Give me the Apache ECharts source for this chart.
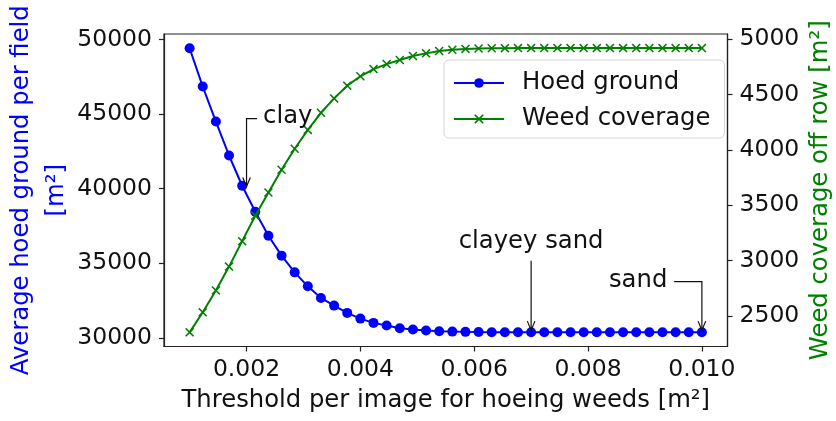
<!DOCTYPE html>
<html>
<head>
<meta charset="utf-8">
<script src="https://cdn.jsdelivr.net/npm/echarts@6/dist/echarts.min.js"></script>
<style>
  html, body { margin: 0; padding: 0; background: #fff; }
  #chart { width: 836px; height: 421px; }
</style>
</head>
<body>
<div id="chart"></div>
<script>
// ---- data ----
const thresholds = [
  0.001, 0.0012308, 0.0014615, 0.0016923, 0.0019231, 0.0021538, 0.0023846, 0.0026154,
  0.0028462, 0.0030769, 0.0033077, 0.0035385, 0.0037692, 0.004, 0.0042308, 0.0044615,
  0.0046923, 0.0049231, 0.0051538, 0.0053846, 0.0056154, 0.0058462, 0.0060769, 0.0063077,
  0.0065385, 0.0067692, 0.007, 0.0072308, 0.0074615, 0.0076923, 0.0079231, 0.0081538,
  0.0083846, 0.0086154, 0.0088462, 0.0090769, 0.0093077, 0.0095385, 0.0097692, 0.01
];
const hoedGround = [
  49411, 46841, 44498, 42223, 40195, 38455, 36848, 35510, 34392, 33455,
  32678, 32163, 31674, 31293, 31005, 30825, 30644, 30557, 30490, 30443,
  30420, 30403, 30390, 30383, 30380, 30378, 30377, 30376, 30376, 30375,
  30375, 30375, 30375, 30375, 30375, 30375, 30375, 30375, 30375, 30375
];
const weedCoverage = [
  2351, 2532, 2730, 2945, 3175, 3405, 3615, 3820, 4010, 4180,
  4335, 4465, 4580, 4665, 4730, 4775, 4812, 4848, 4872, 4893,
  4905, 4912, 4916, 4918, 4919, 4920, 4920, 4920, 4920, 4920,
  4920, 4920, 4920, 4920, 4920, 4920, 4920, 4920, 4920, 4920
];
const xTicks = [0.002, 0.004, 0.006, 0.008, 0.010];
const leftTicks = [30000, 35000, 40000, 45000, 50000];
const rightTicks = [2500, 3000, 3500, 4000, 4500, 5000];
const seriesNames = ['Hoed ground', 'Weed coverage'];
const xAxisTitle = 'Threshold per image for hoeing weeds [m²]';
const leftAxisTitle = 'Average hoed ground per field\n[m²]';
const rightAxisTitle = 'Weed coverage off row [m²]';
// annotations: label, arrow tip (x, left-axis y), text anchor (x, left-axis y)
const annoLabels = ['clay', 'clayey sand', 'sand'];
const annoTips = [[0.002, 40150], [0.007, 30520], [0.010, 30520]];
const annoTexts = [[0.00229, 44820], [0.007, 36450], [0.00888, 33840]];

const FONT = 'DejaVu Sans';
const FS = 24.3;     // labels, legend, annotations
const TFS = 23.5;    // tick labels
const BLUE = '#0000ff';
const GREEN = '#008000';
const XSHAPE = 'path://M0,1.2L1.2,0L5,3.8L8.8,0L10,1.2L6.2,5L10,8.8L8.8,10L5,6.2L1.2,10L0,8.8L3.8,5Z';

const chart = echarts.init(document.getElementById('chart'), null, { renderer: 'canvas' });

const option = {
  animation: false,
  backgroundColor: '#fff',
  textStyle: { fontFamily: FONT },
  grid: {
    left: 164, top: 34, right: 108.5, bottom: 74.5,
    containLabel: false, outerBoundsMode: 'none',
    show: true, borderColor: '#222', borderWidth: 1.2, backgroundColor: 'transparent'
  },
  legend: {
    data: seriesNames,
    orient: 'vertical',
    left: 444, top: 60,
    width: 277,
    padding: [11, 14, 7, 9],
    itemGap: 12,
    itemWidth: 50, itemHeight: 12,
    backgroundColor: 'rgba(255,255,255,0.8)',
    borderColor: '#d5d5d5', borderWidth: 1, borderRadius: 5,
    textStyle: { fontFamily: FONT, fontSize: FS, color: '#111', padding: [0, 0, 0, 13] }
  },
  xAxis: {
    type: 'value',
    min: 0.00055, max: 0.01045,
    name: xAxisTitle,
    nameLocation: 'middle', nameGap: 42, nameMoveOverlap: false,
    nameTextStyle: { fontFamily: FONT, fontSize: FS, color: '#111' },
    axisLine: { show: true, lineStyle: { color: '#222', width: 1.2 } },
    axisTick: { show: true, inside: false, length: 5, lineStyle: { color: '#222', width: 1.2 }, customValues: xTicks },
    axisLabel: { fontFamily: FONT, fontSize: TFS, color: '#111', margin: 11, customValues: xTicks,
      formatter: v => Number(v).toFixed(3) },
    splitLine: { show: false }
  },
  yAxis: [
    {
      type: 'value', position: 'left',
      min: 29423, max: 50363,
      name: leftAxisTitle,
      nameLocation: 'middle', nameRotate: 90, nameGap: 90, nameMoveOverlap: false,
      nameTextStyle: { fontFamily: FONT, fontSize: FS, color: BLUE, lineHeight: 35 },
      axisLine: { show: true, lineStyle: { color: '#222', width: 1.2 } },
      axisTick: { show: true, inside: false, length: 5, lineStyle: { color: '#222', width: 1.2 }, customValues: leftTicks },
      axisLabel: { fontFamily: FONT, fontSize: TFS, color: '#111', margin: 12, customValues: leftTicks,
        formatter: v => String(Math.round(v)) },
      splitLine: { show: false }
    },
    {
      type: 'value', position: 'right',
      min: 2223, max: 5047,
      name: rightAxisTitle,
      nameLocation: 'middle', nameRotate: 90, nameGap: 81, nameMoveOverlap: false,
      nameTextStyle: { fontFamily: FONT, fontSize: FS, color: GREEN },
      axisLine: { show: true, lineStyle: { color: '#222', width: 1.2 } },
      axisTick: { show: true, inside: false, length: 5, lineStyle: { color: '#222', width: 1.2 }, customValues: rightTicks },
      axisLabel: { fontFamily: FONT, fontSize: TFS, color: '#111', margin: 12, customValues: rightTicks,
        formatter: v => String(Math.round(v)) },
      splitLine: { show: false }
    }
  ],
  series: [
    {
      name: seriesNames[0], type: 'line', yAxisIndex: 0,
      data: thresholds.map((x, i) => [x, hoedGround[i]]),
      symbol: 'circle', symbolSize: 10, showAllSymbol: true,
      lineStyle: { color: BLUE, width: 2 },
      itemStyle: { color: BLUE },
      z: 3
    },
    {
      name: seriesNames[1], type: 'line', yAxisIndex: 1,
      data: thresholds.map((x, i) => [x, weedCoverage[i]]),
      symbol: XSHAPE, symbolSize: 9, showAllSymbol: true,
      lineStyle: { color: GREEN, width: 2 },
      itemStyle: { color: GREEN },
      z: 4
    }
  ]
};
chart.setOption(option);

function px(pt) {
  return chart.convertToPixel({ xAxisIndex: 0, yAxisIndex: 0 }, pt);
}
const LINE = { stroke: '#111', lineWidth: 1.2, fill: null };
function arrowHead(tip) {
  return {
    type: 'polyline', z: 100,
    shape: { points: [[tip[0] - 3.8, tip[1] - 9], [tip[0], tip[1]], [tip[0] + 3.8, tip[1] - 9]] },
    style: LINE
  };
}
const graphics = [];
// clay: text left-aligned, angle connector from left of text
{
  const t = px(annoTexts[0]), tip = px(annoTips[0]);
  graphics.push({ type: 'text', z: 100, x: t[0], y: t[1],
    style: { text: annoLabels[0], font: FS + 'px "' + FONT + '"', fill: '#111', align: 'left', verticalAlign: 'middle' } });
  graphics.push({ type: 'polyline', z: 100,
    shape: { points: [[t[0] - 6, t[1] + 2], [tip[0], t[1] + 2], [tip[0], tip[1]]] }, style: LINE });
  graphics.push(arrowHead(tip));
}
// clayey sand: centred text, straight arrow down
{
  const t = px(annoTexts[1]), tip = px(annoTips[1]);
  graphics.push({ type: 'text', z: 100, x: t[0], y: t[1],
    style: { text: annoLabels[1], font: FS + 'px "' + FONT + '"', fill: '#111', align: 'center', verticalAlign: 'middle' } });
  graphics.push({ type: 'polyline', z: 100,
    shape: { points: [[tip[0], t[1] + 19], [tip[0], tip[1]]] }, style: LINE });
  graphics.push(arrowHead(tip));
}
// sand: centred text, angle connector from right of text
{
  const t = px(annoTexts[2]), tip = px(annoTips[2]);
  graphics.push({ type: 'text', z: 100, x: t[0], y: t[1],
    style: { text: annoLabels[2], font: FS + 'px "' + FONT + '"', fill: '#111', align: 'center', verticalAlign: 'middle' } });
  graphics.push({ type: 'polyline', z: 100,
    shape: { points: [[t[0] + 36, t[1] + 1], [tip[0], t[1] + 1], [tip[0], tip[1]]] }, style: LINE });
  graphics.push(arrowHead(tip));
}
chart.setOption({ graphic: graphics });
</script>
</body>
</html>
